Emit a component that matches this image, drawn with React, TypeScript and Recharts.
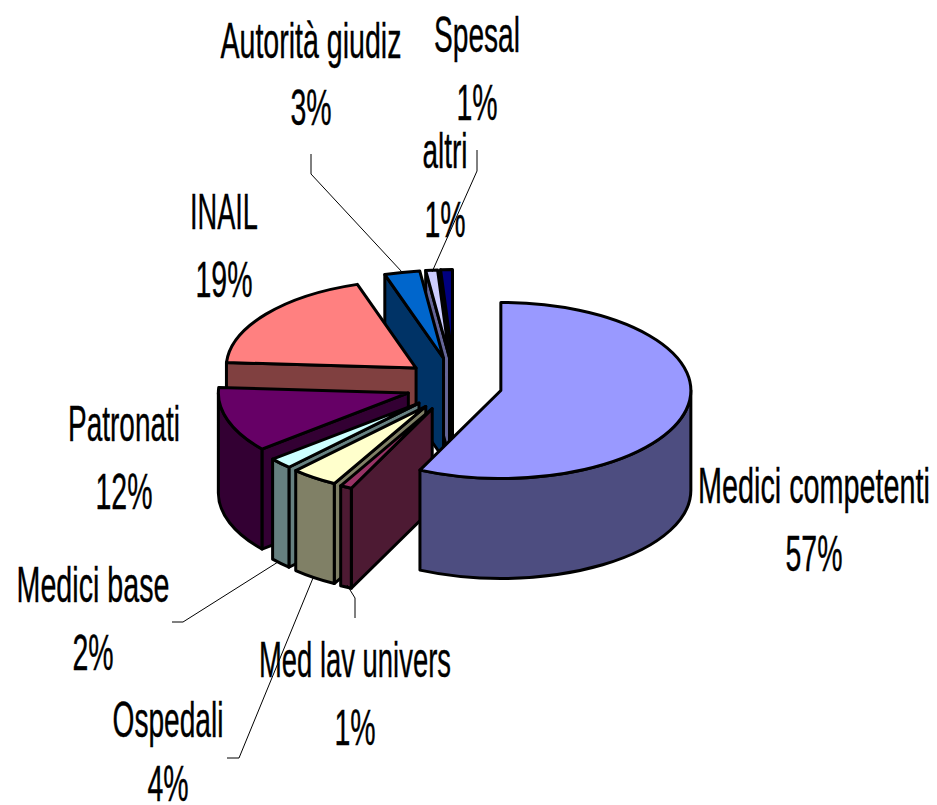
import React from "react";
import { PieChart, Pie } from "recharts";

const categories = ["Medici competenti", "Med lav univers", "Ospedali", "Medici base", "Patronati", "INAIL", "Autorità giudiz", "altri", "Spesal"];
const shares = [57, 1, 4, 2, 12, 19, 3, 1, 1];
const topColors = ["#9999ff", "#993366", "#ffffcc", "#ccffff", "#660066", "#ff8080", "#0066cc", "#ccccff", "#000080"];
const sideColors = ["#4d4d80", "#4d1a33", "#808066", "#668080", "#330033", "#804040", "#003366", "#666699", "#000040"];
const paintOrder = [8, 7, 6, 5, 4, 3, 2, 1, 0];

const data = categories.map((name, i) => ({ name, value: shares[i], idx: i }));

const CX = 454;
const CY = 384.6;
const RX = 190;
const KY = 88 / 190;
const DEPTH = 100;
const EXPLODE = 48;
const EXPLODE_Y = 27;

// label layout: centre x, name baseline, percent baseline, name width, leader line
const labelLayout: Record<string, { x: number; y1: number; y2: number; w: number; line?: number[][] }> = {
  "Medici competenti": { x: 814, y1: 503, y2: 571, w: 232 },
  "Med lav univers": { x: 355, y1: 677, y2: 745, w: 192, line: [[355, 618], [355, 598], [347, 585]] },
  Ospedali: { x: 168, y1: 737, y2: 801, w: 111, line: [[227, 758], [239, 758], [313, 578]] },
  "Medici base": { x: 93, y1: 602, y2: 670, w: 153, line: [[172, 622], [183, 622], [278, 562]] },
  Patronati: { x: 124, y1: 441, y2: 509, w: 112 },
  INAIL: { x: 224, y1: 229, y2: 297, w: 68 },
  "Autorità giudiz": { x: 311, y1: 58, y2: 125, w: 181, line: [[311, 154], [311, 174], [402, 272]] },
  altri: { x: 445, y1: 168, y2: 237, w: 45 },
  Spesal: { x: 477, y1: 52, y2: 120, w: 86, line: [[477, 150], [477, 171], [432, 272]] },
};

const rad = (d: number) => (d * Math.PI) / 180;

function Slice3D(props: any) {
  const { startAngle, endAngle, cx, cy, outerRadius } = props;
  const idx = props.idx ?? props.payload?.idx;
  const mid = (startAngle + endAngle) / 2;
  const ax = cx + EXPLODE * Math.cos(rad(mid));
  const ay = cy - EXPLODE_Y * Math.sin(rad(mid));
  const ry = outerRadius * KY;
  const pt = (a: number) => [ax + outerRadius * Math.cos(rad(a)), ay - ry * Math.sin(rad(a))];
  const [sx, sy] = pt(startAngle);
  const [ex, ey] = pt(endAngle);
  const large = startAngle - endAngle > 180 ? 1 : 0;
  const top = `M${ax},${ay} L${sx},${sy} A${outerRadius},${ry} 0 ${large} 1 ${ex},${ey} Z`;
  const radial = (x: number, y: number) =>
    `M${ax},${ay} L${x},${y} L${x},${y + DEPTH} L${ax},${ay + DEPTH} Z`;
  const norm = (a: number) => ((a % 360) + 360) % 360;
  // clockwise-from-top bearings of the two straight edges
  const thetaStart = norm(90 - startAngle);
  const thetaEnd = norm(90 - endAngle);
  const showStart = thetaStart > 180 && thetaStart < 360;
  const showEnd = thetaEnd > 0 && thetaEnd < 180;
  // visible part of the rim: lower half of the ellipse
  const a1 = norm(startAngle);
  const a2 = a1 - (startAngle - endAngle);
  const segs: [number, number][] = [];
  for (const [hi, lo] of [[360, 180], [0, -180]]) {
    const h = Math.min(a1, hi);
    const l = Math.max(a2, lo);
    if (h > l) segs.push([h, l]);
  }
  const g = { stroke: "#000", strokeWidth: 3, strokeLinejoin: "round" as const };
  return (
    <g>
      {showStart && <path d={radial(sx, sy)} fill={sideColors[idx]} {...g} />}
      {showEnd && <path d={radial(ex, ey)} fill={sideColors[idx]} {...g} />}
      {segs.map(([h, l], i) => {
        const [p, q] = pt(h);
        const [r, s] = pt(l);
        return (
          <path
            key={i}
            d={`M${p},${q} A${outerRadius},${ry} 0 0 1 ${r},${s} L${r},${s + DEPTH} A${outerRadius},${ry} 0 0 0 ${p},${q + DEPTH} Z`}
            fill={sideColors[idx]}
            {...g}
          />
        );
      })}
      <path d={top} fill={topColors[idx]} {...g} />
    </g>
  );
}

function renderLabel(props: any) {
  const name = props.name ?? props.payload?.name;
  const value = props.value ?? props.payload?.value;
  const l = labelLayout[name];
  if (!l) return null;
  const style = { fontFamily: "'Liberation Sans', Arial, sans-serif", fontSize: 50, fill: "#000", stroke: "#000", strokeWidth: 0.4 };
  return (
    <g key={name}>
      {l.line && <polyline points={l.line.map((p) => p.join(",")).join(" ")} fill="none" stroke="#000" strokeWidth={1} />}
      <text x={l.x} y={l.y1} textAnchor="middle" textLength={l.w} lengthAdjust="spacingAndGlyphs" {...style}>{name}</text>
      <text transform={`translate(${l.x},${l.y2}) scale(0.57,1)`} textAnchor="middle" {...style}>{`${value}%`}</text>
    </g>
  );
}

export default function App() {
  return (
    <div style={{ position: "absolute", left: 0, top: 0, width: 937, height: 805, background: "#fff", overflow: "hidden" }}>
      <PieChart width={937} height={805} margin={{ top: 0, right: 0, bottom: 0, left: 0 }}>
        {paintOrder.map((layer) => (
          <Pie
            key={layer}
            data={data}
            dataKey="value"
            nameKey="name"
            cx={CX}
            cy={CY}
            outerRadius={RX}
            startAngle={90}
            endAngle={-270}
            isAnimationActive={false}
            stroke="none"
            shape={(p: any) => ((p.idx ?? p.payload?.idx) === layer ? <Slice3D {...p} /> : <g />)}
          />
        ))}
        <Pie
          data={data}
          dataKey="value"
          nameKey="name"
          cx={CX}
          cy={CY}
          outerRadius={RX}
          startAngle={90}
          endAngle={-270}
          isAnimationActive={false}
          fill="none"
          stroke="none"
          shape={() => <g />}
          label={renderLabel}
          labelLine={false}
        />
      </PieChart>
    </div>
  );
}
